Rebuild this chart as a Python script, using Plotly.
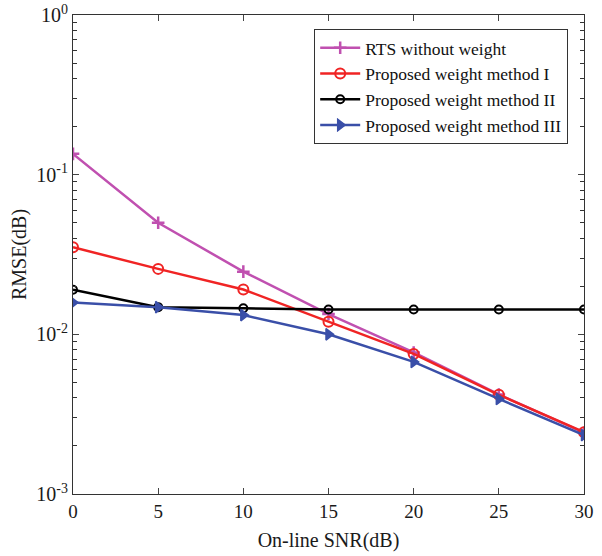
import plotly.graph_objects as go

snr = [0, 5, 10, 15, 20, 25, 30]
rts = [0.135, 0.050, 0.0247, 0.0134, 0.0077, 0.0042, 0.00242]
m1 = [0.0351, 0.0257, 0.0191, 0.0120, 0.00754, 0.00418, 0.00244]
m2 = [0.0190, 0.0148, 0.01456, 0.0143, 0.0143, 0.0143, 0.0143]
m3 = [0.0158, 0.0148, 0.0132, 0.0100, 0.00672, 0.00394, 0.00234]
names = ["RTS without weight", "Proposed weight method I",
         "Proposed weight method II", "Proposed weight method III"]
ytick_vals = [1e-3, 1e-2, 1e-1, 1e0]
ytick_text = ["10<sup>-3</sup>", "10<sup>-2</sup>", "10<sup>-1</sup>", "10<sup>0</sup>"]
xtick_vals = [0, 5, 10, 15, 20, 25, 30]

font = "Liberation Serif, Times New Roman, serif"

fig = go.Figure()
fig.add_trace(go.Scatter(x=snr, y=rts, name=names[0], mode="lines+markers",
                         line=dict(color="#C050B0", width=2.5),
                         marker=dict(symbol="cross-thin", size=9,
                                     line=dict(color="#C050B0", width=2.5))))
fig.add_trace(go.Scatter(x=snr, y=m1, name=names[1], mode="lines+markers",
                         line=dict(color="#F02424", width=2.5),
                         marker=dict(symbol="circle-open", size=10,
                                     line=dict(color="#F02424", width=2))))
fig.add_trace(go.Scatter(x=snr, y=m2, name=names[2], mode="lines+markers",
                         line=dict(color="#000000", width=2.5),
                         marker=dict(symbol="circle-open", size=8,
                                     line=dict(color="#000000", width=2))))
fig.add_trace(go.Scatter(x=snr, y=m3, name=names[3], mode="lines+markers",
                         line=dict(color="#3A4FA8", width=2.5),
                         marker=dict(symbol="triangle-right", size=10,
                                     color="#3A4FA8",
                                     line=dict(color="#3A4FA8", width=1.5))))

minor_vals = [m * 10 ** e for e in (-3, -2, -1) for m in range(2, 10)]

fig.update_layout(
    width=602, height=556,
    margin=dict(l=73, r=18, t=15, b=62),
    paper_bgcolor="white", plot_bgcolor="white",
    font=dict(family=font, size=18, color="#1a1a1a"),
    showlegend=True,
    legend=dict(x=0.472, y=0.971, xanchor="left", yanchor="top",
                bordercolor="#333", borderwidth=1, bgcolor="white",
                font=dict(family=font, size=17.5, color="#111"),
                tracegroupgap=0, itemwidth=40),
    xaxis=dict(range=[0, 30], tickvals=xtick_vals, ticks="inside", ticklen=6,
               showline=True, linecolor="#333", linewidth=1.2, mirror="ticks",
               showgrid=False, zeroline=False, automargin=False,
               ticklabeloverflow="allow",
               title=dict(text="On-line SNR(dB)", font=dict(size=20), standoff=12),
               tickfont=dict(size=19)),
    yaxis=dict(type="log", range=[-3, 0], tickvals=ytick_vals, ticktext=ytick_text,
               ticks="inside", ticklen=6,
               showline=True, linecolor="#333", linewidth=1.2, mirror="ticks",
               showgrid=False, zeroline=False, automargin=False,
               ticklabeloverflow="allow",
               minor=dict(tickvals=minor_vals, ticks="inside", ticklen=4,
                          tickcolor="#333", showgrid=False),
               title=dict(text="RMSE(dB)", font=dict(size=20), standoff=4),
               tickfont=dict(size=20)),
)

fig.write_html("out.html", config={"displayModeBar": False},
               post_script="document.body.style.margin='0';")
